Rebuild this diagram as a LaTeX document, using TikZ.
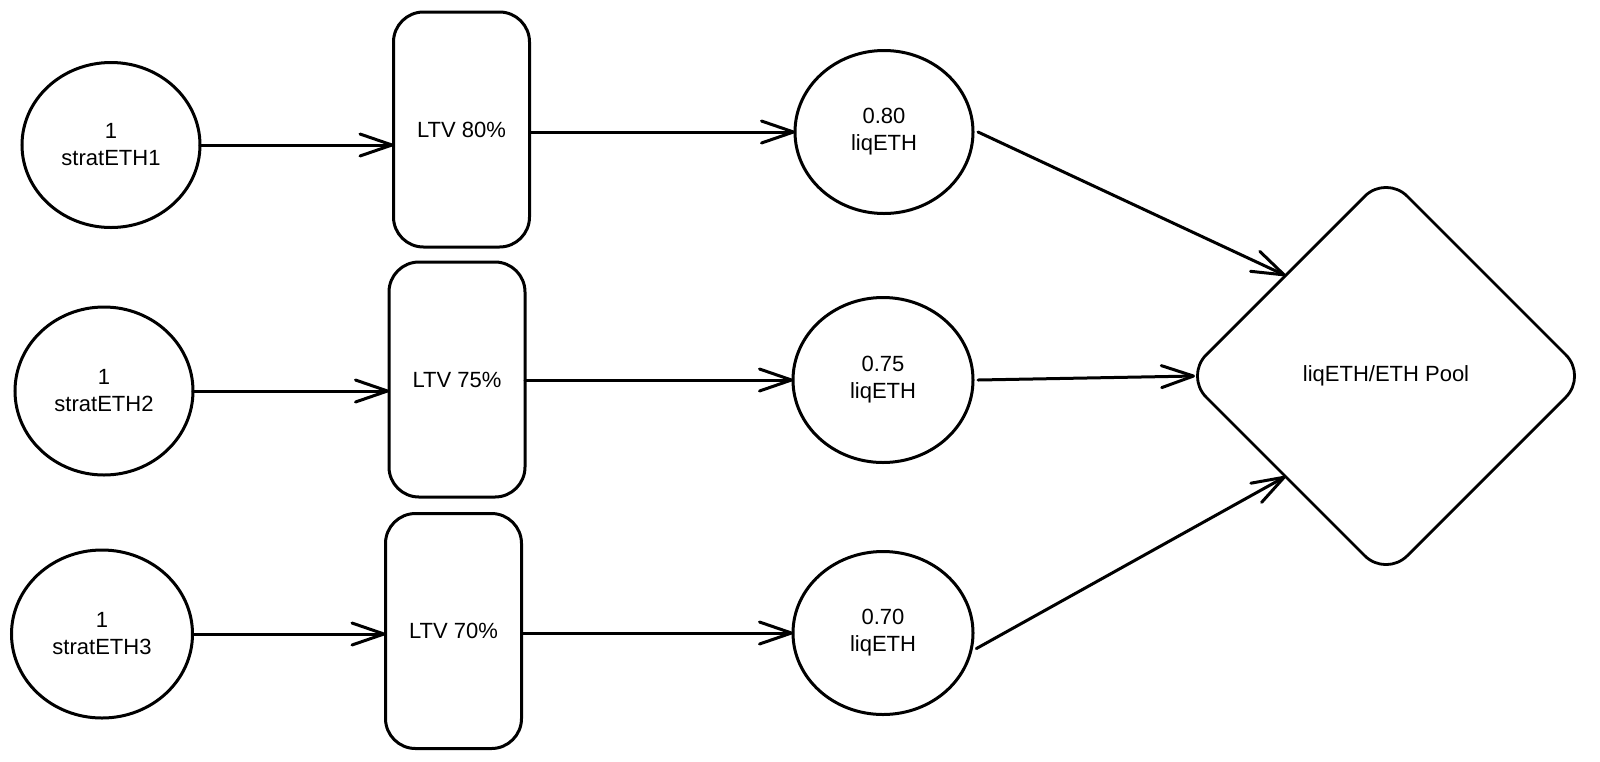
\documentclass[tikz,border=0pt]{standalone}
\usepackage{fontspec}
\setmainfont{Liberation Sans}
\usetikzlibrary{shapes.geometric,arrows.meta}
\begin{document}
\begin{tikzpicture}[x=0.5pt,y=-0.5pt,
  every node/.style={font=\fontsize{11}{13.5}\selectfont, align=center, inner sep=0pt, outer sep=0pt},
  blob/.style={draw, ellipse, line width=1.5pt},
  ltvbox/.style={draw, rectangle, rounded corners=15pt, line width=1.5pt, minimum width=68pt, minimum height=117.5pt},
  pooldiamond/.style={draw, diamond, aspect=1, rounded corners=15pt, line width=1.4pt, minimum width=201pt, minimum height=201pt},
  arr/.style={line width=1.5pt, line cap=round, -{Straight Barb[length=16pt,width=11pt,round]}}]
\fill[white] (0,0) rectangle (1600,761);
\useasboundingbox (0,0) rectangle (1600,761);

\node[blob, minimum width=89pt, minimum height=82.5pt] (s1) at (111,145) {1\\stratETH1};
\node[blob, minimum width=89pt, minimum height=84pt] (s2) at (104,391) {1\\stratETH2};
\node[blob, minimum width=90.5pt, minimum height=84pt] (s3) at (102,634) {1\\stratETH3};

\node[ltvbox] (b1) at (461.5,129.5) {LTV 80\%};
\node[ltvbox] (b2) at (457,379.5) {LTV 75\%};
\node[ltvbox] (b3) at (453.5,631) {LTV 70\%};

\node[blob, minimum width=89pt, minimum height=81.5pt] (c1) at (884,132) {0.80\\liqETH};
\node[blob, minimum width=90pt, minimum height=82.5pt] (c2) at (883,380) {0.75\\liqETH};
\node[blob, minimum width=90pt, minimum height=81.5pt] (c3) at (883,633) {0.70\\liqETH};

\node[pooldiamond] (pool) at (1386,376) {liqETH/ETH Pool};

\draw[arr] (s1.east) -- (s1.east -| b1.west);
\draw[arr] (s2.east) -- (s2.east -| b2.west);
\draw[arr] (s3.east) -- (s3.east -| b3.west);

\draw[arr] (b1.east |- c1.west) -- (c1.west);
\draw[arr] (b2.east |- c2.west) -- (c2.west);
\draw[arr] (b3.east |- c3.west) -- (c3.west);

\draw[arr] ([xshift=2.5pt]c1.east) -- (pool.north west);
\draw[arr] ([xshift=2.5pt]c2.east) -- ([xshift=5pt]pool.west);
\draw[arr] ([xshift=2.5pt]c3.-10) -- (pool.south west);
\end{tikzpicture}
\end{document}
